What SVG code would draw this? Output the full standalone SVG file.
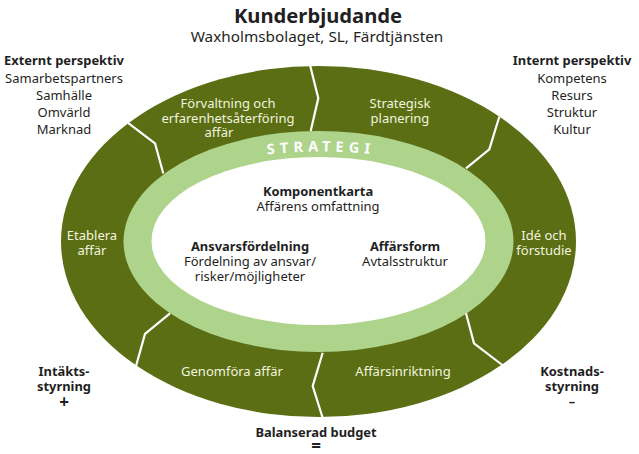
<svg xmlns="http://www.w3.org/2000/svg" width="639" height="454" viewBox="0 0 639 454">
<style>
text{font-family:"Noto Sans","Open Sans","Liberation Sans",sans-serif;text-anchor:middle;font-size:13px;fill:#1f1f24}
.b{font-weight:700;font-size:12.9px}
.w{fill:#f1f4df}
.s{font-size:17px}
.sep{fill:none;stroke:#fff;stroke-width:2.2;stroke-linejoin:miter}
</style>
<defs><path id="arc" d="M111 241.5A210 90 0 0 1 531 241.5"/></defs>
<rect width="639" height="454" fill="#fff"/>
<g id="titel">
<text class="b" x="318" y="23" style="font-size:20.2px">Kunderbjudande</text>
<text x="317" y="42" style="font-size:15.3px">Waxholmsbolaget, SL, Färdtjänsten</text>
</g>
<g id="ring-yttre"><ellipse cx="318.5" cy="241.5" rx="257.5" ry="175.5" fill="#5b6e14"/></g>
<g id="ring-strategi">
<ellipse cx="318.5" cy="241.5" rx="195" ry="110.5" fill="#aed48c"/>
<ellipse cx="318.5" cy="241" rx="167" ry="84" fill="#fff"/>
<text class="b" style="font-size:14.5px;letter-spacing:5px;fill:#fff"><textPath href="#arc" startOffset="50%">STRATEGI</textPath></text>
</g>
<g id="connectors">
<path class="sep" d="M310 65L318.3 98.3L310.7 131"/>
<path class="sep" d="M127.7 122.7L155 143.3L163.3 173.5"/>
<path class="sep" d="M499.3 116.7L489.3 149.3L466 168.3"/>
<path class="sep" d="M170 313.3L145 334L136 366"/>
<path class="sep" d="M466 313.3L474 343.3L502.3 365"/>
<path class="sep" d="M322.7 352.7L312.7 386L322.7 418"/>
</g>
<g id="forvaltning"><text class="w" x="228" y="108">Förvaltning och</text><text class="w" x="228" y="123">erfarenhetsåterföring</text><text class="w" x="219" y="137">affär</text></g>
<g id="strategisk"><text class="w" x="400" y="108">Strategisk</text><text class="w" x="400" y="123">planering</text></g>
<g id="etablera"><text class="w" x="92" y="240">Etablera</text><text class="w" x="92" y="255">affär</text></g>
<g id="ide"><text class="w" x="544" y="240">Idé och</text><text class="w" x="544" y="255">förstudie</text></g>
<g id="genomfora"><text class="w" x="232" y="376">Genomföra affär</text></g>
<g id="affarsinriktning"><text class="w" x="403" y="376">Affärsinriktning</text></g>
<g id="komponentkarta"><text class="b" x="318" y="196">Komponentkarta</text><text x="318" y="211">Affärens omfattning</text></g>
<g id="ansvar"><text class="b" x="250" y="251">Ansvarsfördelning</text><text x="250" y="266">Fördelning av ansvar/</text><text x="250" y="281">risker/möjligheter</text></g>
<g id="affarsform"><text class="b" x="405" y="251">Affärsform</text><text x="405" y="266">Avtalsstruktur</text></g>
<g id="externt"><text class="b" x="64" y="65">Externt perspektiv</text><text x="64" y="83">Samarbetspartners</text><text x="64" y="100">Samhälle</text><text x="64" y="117">Omvärld</text><text x="64" y="134">Marknad</text></g>
<g id="internt"><text class="b" x="572" y="65">Internt perspektiv</text><text x="572" y="83">Kompetens</text><text x="572" y="100">Resurs</text><text x="572" y="117">Struktur</text><text x="572" y="134">Kultur</text></g>
<g id="intakt"><text class="b" x="64" y="376">Intäkts-</text><text class="b" x="64" y="391">styrning</text><text class="b s" x="64" y="408">+</text></g>
<g id="kostnad"><text class="b" x="572" y="376">Kostnads-</text><text class="b" x="572" y="391">styrning</text><text class="b" x="572" y="406">–</text></g>
<g id="budget"><text class="b" x="316" y="437">Balanserad budget</text><text class="b s" x="316" y="452">=</text></g>
</svg>
